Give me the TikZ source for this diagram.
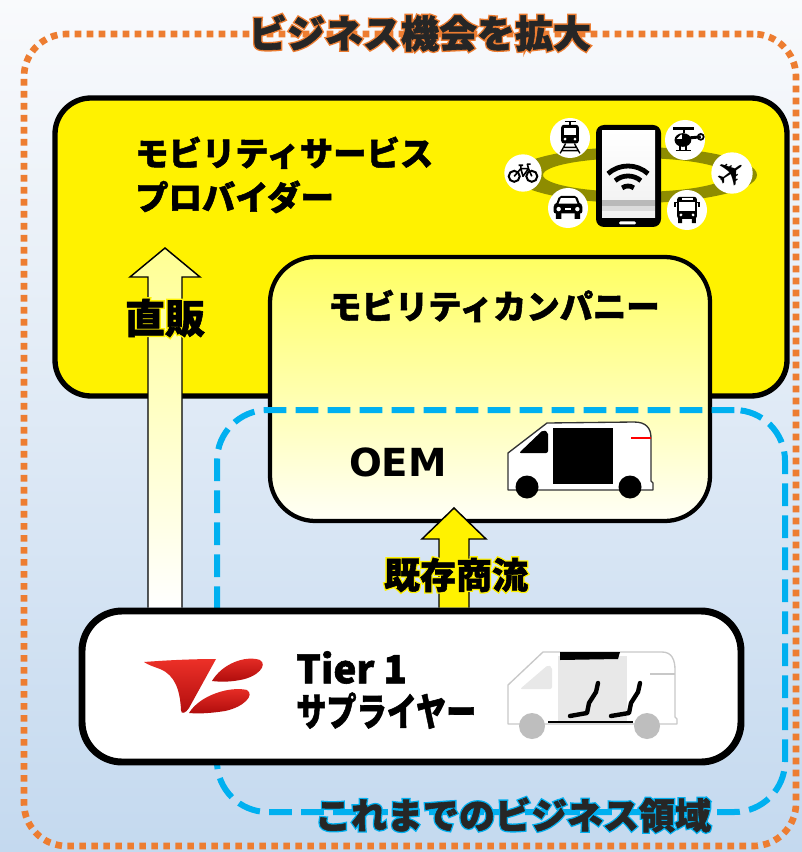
\documentclass[tikz,border=0pt]{standalone}
\usepackage{fontspec}
\setmainfont{Noto Sans CJK JP}
\newfontfamily\heavyjp{Noto Sans CJK JP}[FakeBold=1.5]
\newfontfamily\halojp{Noto Sans CJK JP}[FakeBold=9]
\newfontfamily\oemfont{DejaVu Sans}
\newfontfamily\symfont{DejaVu Sans}
\usetikzlibrary{fit,calc}

\definecolor{zoneorange}{RGB}{237,125,49}
\definecolor{zoneblue}{RGB}{0,176,240}
\definecolor{ringolive}{RGB}{142,140,0}
\definecolor{inkdark}{RGB}{38,38,38}
\definecolor{bgtop}{RGB}{249,250,252}
\definecolor{bgbottom}{RGB}{196,217,239}
\definecolor{logored}{RGB}{236,48,40}
\definecolor{logodark}{RGB}{175,12,12}
\definecolor{vanline}{RGB}{200,200,200}
\definecolor{vanpale}{RGB}{232,232,232}
\definecolor{wheelgray}{RGB}{190,190,190}

\pgfdeclarelayer{back}
\pgfdeclarelayer{front}
\pgfsetlayers{back,main,front}

% text drawn over a widened copy of itself in the halo colour
\newcommand\halotext[2]{\rlap{\textcolor{#1}{\halojp\bfseries #2}}#2}

\tikzset{
  orangezone/.style={draw=zoneorange, line width=5pt, dash pattern=on 5pt off 4pt,
    rounded corners=32pt, inner sep=0pt},
  bluezone/.style={draw=zoneblue, line width=4.5pt, dash pattern=on 17pt off 7pt,
    rounded corners=38pt, inner sep=0pt},
  providerbox/.style={draw=black, fill=yellow, line width=4pt, rounded corners=27pt, inner sep=0pt},
  companybox/.style={draw=black, line width=3.2pt, rounded corners=34pt, inner sep=0pt,
    top color=yellow!62!white, bottom color=yellow!3!white},
  tierbox/.style={draw=black, fill=white, line width=5.2pt, rounded corners=30pt, inner sep=0pt},
  boxlabel/.style={inner sep=0pt, text=black, font=\heavyjp\bfseries\fontsize{25pt}{33pt}\selectfont},
  zonelabel/.style={inner sep=0pt, text=inkdark, font=\heavyjp\bfseries\fontsize{28.5pt}{30pt}\selectfont},
  flowlabel/.style={inner sep=0pt, text=black, font=\heavyjp\bfseries\fontsize{27pt}{30pt}\selectfont},
  salesarrow/.style={draw=black, line width=1.1pt, line join=miter,
    top color=yellow!42!white, bottom color=white},
  tradearrow/.style={draw=black, line width=1.1pt, line join=miter, fill=yellow},
  iconbadge/.style={circle, fill=white, minimum size=30pt, inner sep=0pt},
  seat/.style={line width=3.3pt, line cap=round, line join=round, black},
}

\begin{document}
\begin{tikzpicture}[x=0.75pt, y=-0.75pt]
\useasboundingbox (0,0) rectangle (802,852);

% ---------- background and regions ----------
\begin{pgfonlayer}{back}
  \fill[top color=bgtop, bottom color=bgbottom] (0,0) rectangle (802,852);
  \node[orangezone, fit={(24,34) (796,846)}] (growth) {};
  \node[providerbox, fit={(55,98) (787,396)}] (provider) {};
  \node[companybox, fit={(270,257) (710,521)}] (company) {};
  \node[bluezone, fit={(217,410) (785,812)}] (legacy) {};
\end{pgfonlayer}

% ---------- supplier box and top-level labels ----------
\begin{pgfonlayer}{front}
  \node[tierbox, fit={(82,611) (741,762)}] (tier) {};

  % supplier logo
  \shade[top color=logored, bottom color=logodark]
    (144,662) .. controls (170,660) and (195,659) .. (216,659)
    -- (189,708) .. controls (186,713) and (181,715) .. (181,710)
    .. controls (180,690) and (175,675) .. (160,669)
    .. controls (155,667) and (148,665) .. (144,662) -- cycle;
  \shade[top color=logored, bottom color=logodark]
    (212,681) .. controls (222,664) and (245,655) .. (260,660)
    .. controls (268,665) and (258,677) .. (240,680)
    .. controls (230,682) and (220,682) .. (212,681) -- cycle;
  \shade[top color=logored, bottom color=logodark]
    (189,713) .. controls (200,695) and (230,686) .. (247,690)
    .. controls (255,695) and (244,707) .. (225,711)
    .. controls (212,713) and (200,714) .. (189,713) -- cycle;

  % cut-away van with seats
  \filldraw[fill=white, draw=vanline, line width=1pt, line join=round]
    (508,721) -- (508,685) -- (543,652) -- (662,652)
    .. controls (672,652) and (675,660) .. (675,670) -- (675,717) -- (677,719) -- (677,724)
    -- (508,724) -- cycle;
  \fill[vanpale, rounded corners=1.5pt] (520,689) -- (548,665) -- (552,667) -- (552,689) -- cycle;
  \fill[vanpale] (558,656) rectangle (627,722);
  \fill[black] (560,652) -- (620,652) -- (618,659) -- (560,660) -- cycle;
  \draw[vanline, line width=1pt] (650,674) -- (675,674);
  \draw[black, line width=1pt] (548,722) -- (633,722);
  \draw[seat] (598,683) -- (596,692) -- (589,703) -- (587,713) -- (570,716);
  \draw[seat] (640,683) -- (638,692) -- (631,703) -- (629,713) -- (611,716);
  \fill[wheelgray] (532,726) circle[radius=13] (647,726) circle[radius=13];

  \node[boxlabel, anchor=west, align=left, font=\heavyjp\bfseries\fontsize{29pt}{32pt}\selectfont]
    (tierText) at (296,690) {Tier 1\\\scalebox{0.78}[1]{サプライヤー}};

  \node[flowlabel, font=\heavyjp\bfseries\fontsize{30pt}{32pt}\selectfont] (directText) at (165,318)
    {\halotext{yellow}{直販}};
  \node[flowlabel] (tradeText) at (456,575) {\halotext{yellow}{既存商流}};
  \node[zonelabel] (growthText) at (420,33) {\halotext{zoneorange}{ビジネス機会を拡大}};
  \node[zonelabel, font=\heavyjp\bfseries\fontsize{27pt}{30pt}\selectfont] (legacyText) at (513,815)
    {\halotext{zoneblue}{これまでのビジネス領域}};
\end{pgfonlayer}

% ---------- mobility services cluster ----------
\fill[ringolive, even odd rule] (635,175) ellipse[x radius=122, y radius=28]
                                (635,175) ellipse[x radius=92, y radius=17];
\fill[black, rounded corners=6pt] (596,125) rectangle (661,227);
\fill[top color=white, bottom color=gray!12] (602,131) rectangle (655,218);
\fill[gray!55] (602,200) rectangle (655,206);
\fill[gray!28] (602,206) rectangle (655,211);
\fill[white, rounded corners=1pt] (619,221.5) rectangle (636,224.5);
\draw[black, line width=3.6pt] (628,196) ++(228:30) arc[start angle=228, end angle=312, radius=30];
\draw[black, line width=3.6pt] (628,196) ++(230:20) arc[start angle=230, end angle=310, radius=20];
\draw[black, line width=3.6pt] (628,196) ++(234:10) arc[start angle=234, end angle=306, radius=10];

% train
\begin{scope}[shift={(570,138)}]
  \node[iconbadge] (trainIcon) at (0,0) {};
  \begin{scope}[scale=1.1]
  \draw[black, line width=1pt] (-5,-15) -- (5,-15) (0,-15) -- (0,-12);
  \fill[black, rounded corners=2pt] (-8,-12) rectangle (8,5);
  \fill[white] (-5.5,-9) rectangle (5.5,-3);
  \fill[white] (-4.5,1) circle[radius=1.4] (4.5,1) circle[radius=1.4];
  \draw[black, line width=1pt] (-4,5) -- (-9,14) (4,5) -- (9,14) (-6,8.5) -- (6,8.5) (-7.5,11.5) -- (7.5,11.5);
  \end{scope}
\end{scope}
% bicycle
\begin{scope}[shift={(523,173)}]
  \node[iconbadge, minimum size=28pt] (bikeIcon) at (0,0) {};
  \begin{scope}[scale=1.1]
  \draw[black, line width=1.5pt] (-8,3) circle[radius=5] (8,3) circle[radius=5];
  \draw[black, line width=1.2pt, line join=round]
    (-8,3) -- (-2,-4) -- (5,-4) -- (8,3) (-2,-4) -- (0,3) -- (5,-4)
    (-4,-7) -- (0,-7) (-2,-7) -- (-2,-4) (5,-4) -- (4,-8) -- (7,-8);
  \end{scope}
\end{scope}
% car
\begin{scope}[shift={(568,208)}]
  \node[iconbadge] (carIcon) at (0,0) {};
  \begin{scope}[scale=1.1]
  \fill[black, rounded corners=1.5pt] (-8,-11) -- (8,-11) -- (11,-3) -- (13,-3) -- (13,5)
    -- (-13,5) -- (-13,-3) -- (-11,-3) -- cycle;
  \fill[black] (-11,4) rectangle (-6,10) (6,4) rectangle (11,10);
  \fill[white] (-6.5,-9) -- (6.5,-9) -- (8.5,-4) -- (-8.5,-4) -- cycle;
  \fill[white] (-8.5,1) circle[radius=2] (8.5,1) circle[radius=2];
  \fill[white] (-3,0) rectangle (3,2);
  \end{scope}
\end{scope}
% helicopter
\begin{scope}[shift={(685,140)}]
  \node[iconbadge] (heliIcon) at (0,0) {};
  \begin{scope}[scale=1.05]
  \draw[black, line width=1.6pt] (-11,-11) -- (9,-11);
  \draw[black, line width=1.3pt] (-1,-11) -- (-1,-7);
  \fill[black] (-2,0) ellipse[x radius=8, y radius=6.5];
  \fill[white] (-8,-1) -- (-4,-5) -- (-3,-5) -- (-3,-1) -- cycle;
  \draw[black, line width=2.2pt] (4,-2) -- (15,-3);
  \draw[black, line width=1.3pt] (15,-3) circle[radius=2.8];
  \draw[black, line width=1.3pt] (-9,10) -- (6,10) (-5,5) -- (-5,10) (1,5) -- (1,10);
  \end{scope}
\end{scope}
% aeroplane
\begin{scope}[shift={(732,173)}]
  \node[iconbadge, minimum size=31pt] (planeIcon) at (0,0) {};
  \node[inner sep=0pt, rotate=35, font=\symfont\fontsize{27pt}{27pt}\selectfont] (planeGlyph) at (0,0) {✈};
\end{scope}
% bus
\begin{scope}[shift={(687,210)}]
  \node[iconbadge] (busIcon) at (0,0) {};
  \begin{scope}[scale=1.1]
  \fill[black, rounded corners=2pt] (-9,-12) rectangle (9,8);
  \fill[black] (-8,7) rectangle (-4.5,12) (4.5,7) rectangle (8,12);
  \fill[white] (-7,-7) rectangle (7,1);
  \fill[white] (-5,-10.5) rectangle (5,-9);
  \fill[white] (-5.5,4.5) circle[radius=1.4] (5.5,4.5) circle[radius=1.4];
  \draw[black, line width=1pt] (-9,-7) -- (-11,-7) -- (-11,-3) (9,-7) -- (11,-7) -- (11,-3);
  \end{scope}
\end{scope}

% ---------- OEM van ----------
\filldraw[fill=white, draw=black!80, line width=1pt, line join=round]
  (508,490) -- (508,453) -- (547,423) -- (634,422)
  .. controls (646,422) and (651,428) .. (651,438) -- (651,481) -- (653,483) -- (653,490) -- cycle;
\fill[black, rounded corners=1.5pt] (519,453) -- (543,430) -- (548,432) -- (548,453) -- cycle;
\fill[black] (553,428) rectangle (613,484);
\draw[red, line width=1.2pt] (631,438) -- (651,438);
\fill[black] (527,487) circle[radius=11.5] (630,487) circle[radius=11.5];

% ---------- box labels ----------
\node[boxlabel, anchor=west, align=left] (providerText) at (135,175) {モビリティサービス\\プロバイダー};
\node[boxlabel] (companyText) at (494,306) {モビリティカンパニー};
\node[inner sep=0pt, font=\oemfont\bfseries\fontsize{29pt}{30pt}\selectfont] (oemText) at (398,462) {OEM};

% ---------- flows out of the supplier ----------
\coordinate (dsTip) at (165,248);
\path (tier.north -| dsTip) coordinate (dsTail);
\draw[salesarrow] ($(dsTail)+(-17,0)$) -- ($(dsTip)+(-17,29)$) -- ($(dsTip)+(-35,29)$) -- (dsTip)
  -- ($(dsTip)+(35,29)$) -- ($(dsTip)+(17,29)$) -- ($(dsTail)+(17,0)$);

\coordinate (trTip) at (454,508);
\path (tier.north -| trTip) coordinate (trTail);
\draw[tradearrow] ($(trTail)+(-15,0)$) -- ($(trTip)+(-15,31)$) -- ($(trTip)+(-32,31)$) -- (trTip)
  -- ($(trTip)+(32,31)$) -- ($(trTip)+(15,31)$) -- ($(trTail)+(15,0)$);

\end{tikzpicture}
\end{document}
